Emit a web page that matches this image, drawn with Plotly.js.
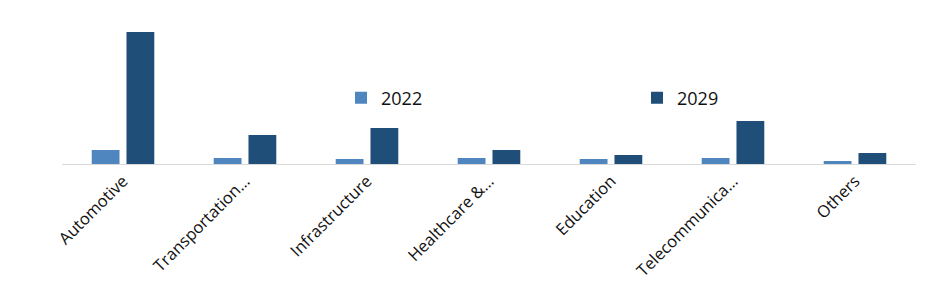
<!DOCTYPE html>
<html>
<head>
<meta charset="utf-8">
<script src="https://cdn.plot.ly/plotly-3.0.1.min.js"></script>
<style>html,body{margin:0;padding:0;background:#fff;}#chart{width:941px;height:291px;}</style>
</head>
<body>
<div id="chart"></div>
<script>
const categories = ["Automotive", "Transportation…", "Infrastructure", "Healthcare &…", "Education", "Telecommunica…", "Others"];
const values2022 = [14, 6, 5, 6, 5, 6, 3];
const values2029 = [132, 29, 36, 14, 9, 43, 11];
const seriesNames = ["2022", "2029"];

const data = [
  {type: "bar", name: seriesNames[0], x: categories, y: values2022, marker: {color: "#4f86c0"}},
  {type: "bar", name: seriesNames[1], x: categories, y: values2029, marker: {color: "#1f4e79"}}
];

const layout = {
  width: 941, height: 291,
  margin: {l: 62, r: 25, t: 32, b: 127, autoexpand: false},
  paper_bgcolor: "#fff", plot_bgcolor: "#fff",
  barmode: "group", bargap: 0.43, bargroupgap: 0.2,
  font: {family: "Open Sans, sans-serif", color: "#111"},
  xaxis: {
    type: "category", tickangle: -45, tickfont: {size: 16.5, color: "#111"},
    showline: true, linecolor: "#d9d9d9", linewidth: 1, ticks: "", showgrid: false,
    automargin: false
  },
  yaxis: {range: [0, 132], visible: false, showgrid: false, zeroline: false},
  showlegend: true,
  legend: {
    orientation: "h", x: 0.3267, xanchor: "left", y: 0.5, yanchor: "middle",
    font: {size: 18, color: "#111"}, entrywidth: 251, entrywidthmode: "pixels",
    bgcolor: "rgba(0,0,0,0)", itemwidth: 30
  }
};

Plotly.newPlot("chart", data, layout, {displayModeBar: false, staticPlot: true});
</script>
</body>
</html>
